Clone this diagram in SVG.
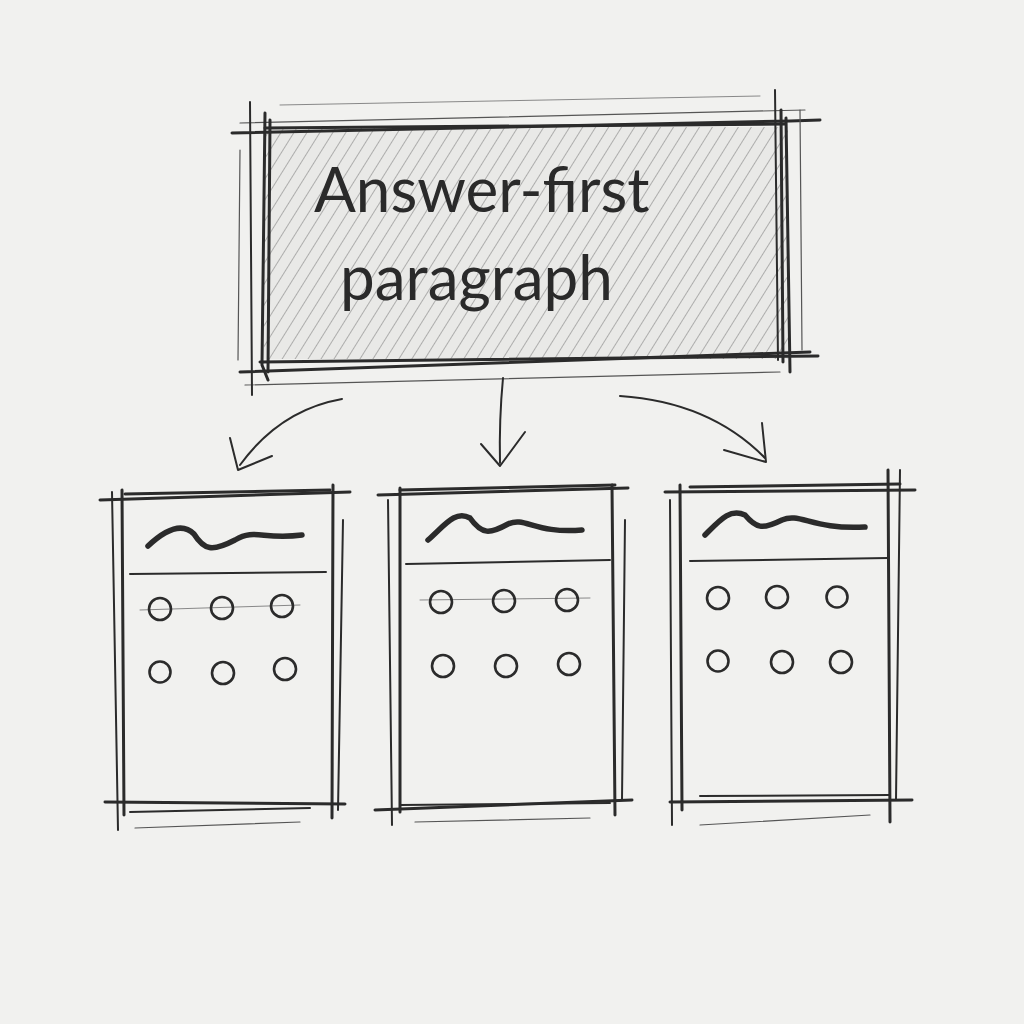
<svg xmlns="http://www.w3.org/2000/svg" width="1024" height="1024" viewBox="0 0 1024 1024">
<defs>
<style>
.p{fill:none;stroke:#2b2b2b;stroke-linecap:round;stroke-linejoin:round}
.h{stroke-width:3}
.m{stroke-width:2}
.l{stroke-width:1.2;stroke:#555}
.f{stroke-width:1;stroke:#888}
.s{stroke-width:5.5}
.t{font-family:"Lato","Open Sans",sans-serif;font-size:62px;fill:#2a2a2a}
.c{fill:none;stroke:#2b2b2b;stroke-width:2.6}
</style>
<pattern id="hatch" patternUnits="userSpaceOnUse" width="11" height="11" patternTransform="rotate(32)">
<line x1="0" y1="0" x2="0" y2="11" stroke="#7a7a7a" stroke-width="1.1"/>
</pattern>
</defs>
<rect width="1024" height="1024" fill="#f1f1ef"/>

<g id="top-box">
<rect x="264" y="127" width="524" height="232" fill="#e9e9e7"/>
<rect x="264" y="127" width="524" height="232" fill="url(#hatch)"/>
<path class="p h" d="M232 133 L790 121 L820 120"/>
<path class="p h" d="M265 128 L785 124"/>
<path class="p l" d="M240 123 L805 110"/>
<path class="p f" d="M280 105 L760 96"/>
<path class="p h" d="M240 372 L810 352"/>
<path class="p h" d="M260 362 L818 356"/>
<path class="p l" d="M245 385 L780 372"/>
<path class="p h" d="M265 113 L262 365 L268 380"/>
<path class="p h" d="M270 120 L268 372"/>
<path class="p m" d="M250 102 L252 395"/>
<path class="p l" d="M240 150 L238 360"/>
<path class="p h" d="M786 118 L790 372"/>
<path class="p h" d="M781 110 L783 362"/>
<path class="p m" d="M775 90 L778 360"/>
<path class="p l" d="M800 110 L802 350"/>
<text class="t" x="314" y="212">Answer-first</text>
<text class="t" x="340" y="300">paragraph</text>
</g>

<g id="connectors">
<path class="p m" d="M342 399 Q280 410 240 465"/>
<path class="p m" d="M230 438 L238 470 L272 456"/>
<path class="p m" d="M503 378 Q499 420 500 463"/>
<path class="p m" d="M481 444 L500 466 L525 432"/>
<path class="p m" d="M620 396 Q710 402 765 458"/>
<path class="p m" d="M724 450 L766 462 L762 423"/>
</g>

<g id="card-1">
<path class="p h" d="M100 500 L350 492"/>
<path class="p h" d="M125 494 L330 490"/>
<path class="p h" d="M105 802 L345 804"/>
<path class="p m" d="M130 812 L310 808"/>
<path class="p l" d="M135 828 L300 822"/>
<path class="p h" d="M122 490 L124 815"/>
<path class="p m" d="M112 492 L118 830"/>
<path class="p h" d="M333 485 L332 818"/>
<path class="p m" d="M343 520 L338 810"/>
<path class="p s" d="M148 546 C165 530 182 522 194 534 C204 550 212 552 235 540 C255 528 262 540 302 535"/>
<path class="p m" d="M130 574 L326 572"/>
<path class="p f" d="M140 610 L300 605"/>
<circle class="c" cx="160" cy="609" r="11"/>
<circle class="c" cx="222" cy="608" r="11"/>
<circle class="c" cx="282" cy="606" r="11"/>
<circle class="c" cx="160" cy="672" r="10.5"/>
<circle class="c" cx="223" cy="673" r="11"/>
<circle class="c" cx="285" cy="669" r="11"/>
</g>

<g id="card-2">
<path class="p h" d="M378 495 L628 488"/>
<path class="p h" d="M400 490 L615 485"/>
<path class="p h" d="M375 810 L632 800"/>
<path class="p m" d="M400 805 L610 803"/>
<path class="p l" d="M415 822 L590 818"/>
<path class="p h" d="M400 488 L400 812"/>
<path class="p m" d="M388 500 L392 825"/>
<path class="p h" d="M612 485 L615 815"/>
<path class="p m" d="M625 520 L622 800"/>
<path class="p s" d="M428 540 C445 525 455 510 470 518 C482 535 490 534 508 524 C525 516 535 534 582 530"/>
<path class="p m" d="M406 564 L610 560"/>
<path class="p f" d="M420 600 L590 598"/>
<circle class="c" cx="441" cy="602" r="11"/>
<circle class="c" cx="504" cy="601" r="11"/>
<circle class="c" cx="567" cy="600" r="11"/>
<circle class="c" cx="443" cy="666" r="11"/>
<circle class="c" cx="506" cy="666" r="11"/>
<circle class="c" cx="569" cy="664" r="11"/>
</g>

<g id="card-3">
<path class="p h" d="M665 492 L915 490"/>
<path class="p h" d="M690 487 L900 484"/>
<path class="p h" d="M670 802 L912 800"/>
<path class="p m" d="M700 796 L890 795"/>
<path class="p l" d="M700 825 L870 815"/>
<path class="p h" d="M680 485 L682 810"/>
<path class="p m" d="M670 500 L672 825"/>
<path class="p h" d="M888 470 L890 822"/>
<path class="p m" d="M900 470 L896 800"/>
<path class="p s" d="M705 535 C720 520 730 508 745 515 C756 528 762 530 782 520 C800 512 812 530 865 527"/>
<path class="p m" d="M690 561 L888 558"/>
<circle class="c" cx="718" cy="598" r="11"/>
<circle class="c" cx="777" cy="597" r="11"/>
<circle class="c" cx="837" cy="597" r="10.5"/>
<circle class="c" cx="718" cy="661" r="10.5"/>
<circle class="c" cx="782" cy="662" r="11"/>
<circle class="c" cx="841" cy="662" r="11"/>
</g>
</svg>
